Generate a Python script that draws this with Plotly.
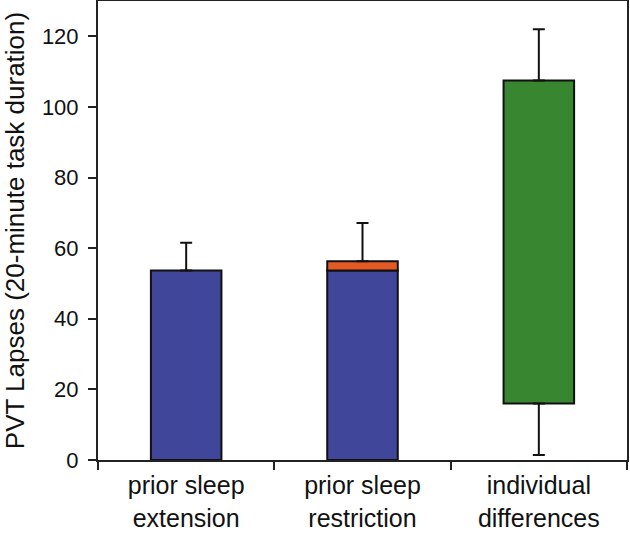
import plotly.graph_objects as go

categories = ["prior sleep<br>extension", "prior sleep<br>restriction", "individual<br>differences"]
# blue base component
blue_values = [53.7, 53.7, None]
# orange increment on top of restriction bar
red_base = [None, 53.7, None]
red_values = [None, 2.6, None]
# green floating range (individual differences)
green_base = [None, None, 16.0]
green_values = [None, None, 91.5]
# error bar endpoints
upper_points = [53.7, 56.3, 107.5]
upper_err = [7.8, 10.8, 14.5]
lower_points = [None, None, 16.0]
lower_err = [None, None, 14.6]

font_family = "Arial, Liberation Sans, sans-serif"
outline = dict(color="#111111", width=2)

fig = go.Figure()
fig.add_trace(go.Bar(x=categories, y=blue_values, marker=dict(color="#40479B", line=outline), width=0.4))
fig.add_trace(go.Bar(x=categories, y=red_values, base=red_base, marker=dict(color="#E35A25", line=outline), width=0.4))
fig.add_trace(go.Bar(x=categories, y=green_values, base=green_base, marker=dict(color="#38862F", line=outline), width=0.4))

fig.add_trace(go.Scatter(
    x=categories, y=upper_points, mode="markers", marker=dict(size=1, opacity=0),
    error_y=dict(type="data", symmetric=False, array=upper_err, arrayminus=[0, 0, 0],
                 color="#111111", thickness=2, width=6)))
fig.add_trace(go.Scatter(
    x=categories, y=lower_points, mode="markers", marker=dict(size=1, opacity=0),
    error_y=dict(type="data", symmetric=False, array=[0, 0, 0], arrayminus=lower_err,
                 color="#111111", thickness=2, width=6)))

fig.update_layout(
    width=630, height=536,
    margin=dict(l=98, r=3, t=1, b=76),
    barmode="overlay",
    showlegend=False,
    plot_bgcolor="white", paper_bgcolor="white",
    font=dict(family=font_family, color="#111111"),
)
fig.update_xaxes(
    showline=True, linecolor="#222222", linewidth=2, mirror=True,
    ticks="outside", tickson="boundaries", ticklen=8, tickwidth=2, tickcolor="#222222",
    tickfont=dict(size=25), ticklabelstandoff=2, showgrid=False, automargin=False,
)
fig.update_yaxes(
    range=[0, 130], tickvals=[0, 20, 40, 60, 80, 100, 120],
    showline=True, linecolor="#222222", linewidth=2, mirror=True,
    ticks="outside", ticklen=8, tickwidth=2, tickcolor="#222222",
    tickfont=dict(size=22), ticklabelstandoff=5, showgrid=False, zeroline=False,
    title=dict(text="PVT Lapses (20-minute task duration)", font=dict(size=26), standoff=10),
    automargin=False,
)

fig.write_html("out.html", config={"displayModeBar": False},
               post_script="document.body.style.margin='0px';")
